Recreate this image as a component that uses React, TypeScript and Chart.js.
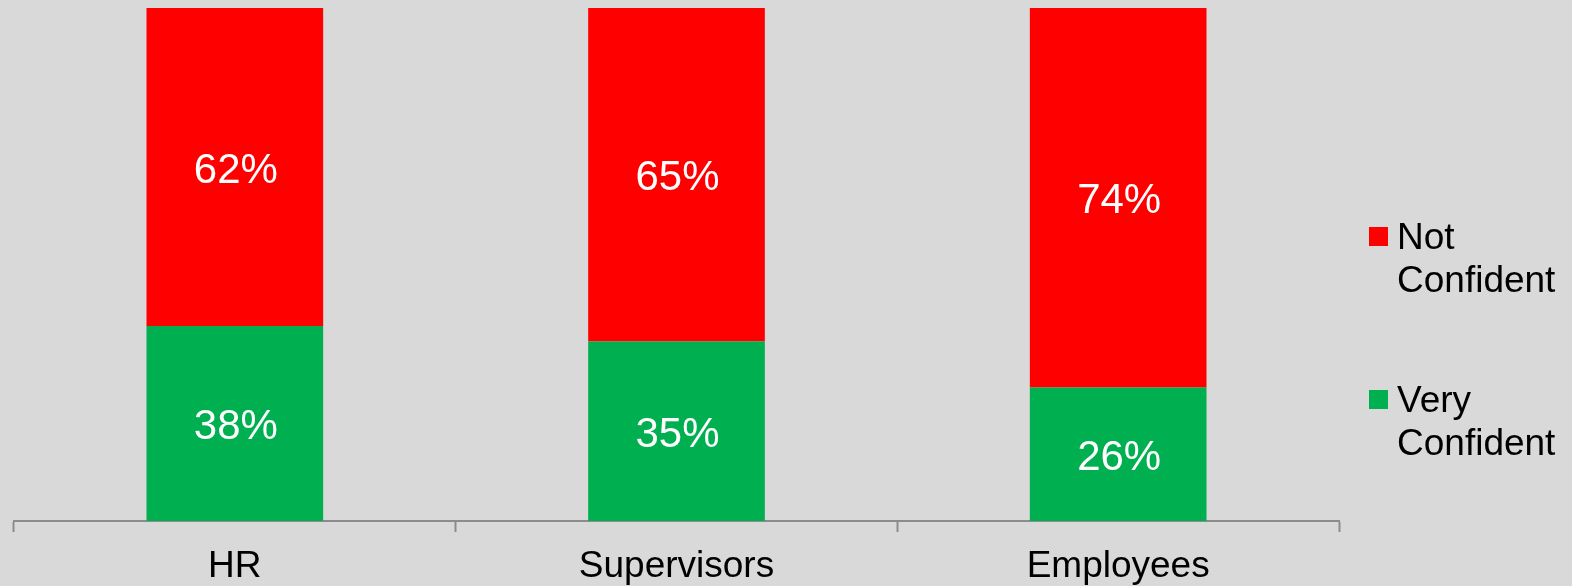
import React, { useEffect, useRef } from "react";
import { Chart, registerables } from "chart.js";

Chart.register(...registerables);

const categories = ["HR", "Supervisors", "Employees"];
const veryConfident = [38, 35, 26];
const notConfident = [62, 65, 74];
const seriesNames = ["Very Confident", "Not Confident"];
const legendLines = [["Not", "Confident"], ["Very", "Confident"]];

const FONT = "'Liberation Sans', Arial, sans-serif";
const GREEN = "#00b050";
const RED = "#ff0000";
const AXIS = "#8c8c8c";

export default function App() {
  const ref = useRef<HTMLCanvasElement>(null);

  useEffect(() => {
    document.body.style.margin = "0";
    const canvas = ref.current!;

    const bgPlugin = {
      id: "bg",
      beforeDraw(chart: any) {
        const ctx = chart.ctx;
        ctx.save();
        ctx.fillStyle = "#d9d9d9";
        ctx.fillRect(0, 0, chart.width, chart.height);
        ctx.restore();
      },
    };

    const labelPlugin = {
      id: "valueLabels",
      afterDatasetsDraw(chart: any) {
        const ctx = chart.ctx;
        ctx.save();
        ctx.fillStyle = "#ffffff";
        ctx.font = `42px ${FONT}`;
        ctx.textAlign = "center";
        ctx.textBaseline = "middle";
        chart.data.datasets.forEach((ds: any, di: number) => {
          const meta = chart.getDatasetMeta(di);
          meta.data.forEach((el: any, i: number) => {
            const y = (el.y + el.base) / 2;
            ctx.fillText(ds.data[i] + "%", el.x + 1, y + 4);
          });
        });
        ctx.restore();
      },
    };

    const legendPlugin = {
      id: "customLegend",
      afterDraw(chart: any) {
        const ctx = chart.ctx;
        ctx.save();
        ctx.font = `37px ${FONT}`;
        ctx.textBaseline = "alphabetic";
        ctx.textAlign = "left";
        const items = [
          { color: RED, lines: legendLines[0], boxY: 227, baseY: 249 },
          { color: GREEN, lines: legendLines[1], boxY: 390, baseY: 412 },
        ];
        items.forEach((it) => {
          ctx.fillStyle = it.color;
          ctx.fillRect(1369, it.boxY, 19, 19);
          ctx.fillStyle = "#000000";
          it.lines.forEach((ln, k) => {
            ctx.fillText(ln, 1397, it.baseY + k * 43);
          });
        });
        ctx.restore();
      },
    };

    const chart = new Chart(canvas, {
      type: "bar",
      data: {
        labels: categories,
        datasets: [
          { label: seriesNames[0], data: veryConfident, backgroundColor: GREEN, barPercentage: 0.4, categoryPercentage: 1 },
          { label: seriesNames[1], data: notConfident, backgroundColor: RED, barPercentage: 0.4, categoryPercentage: 1 },
        ],
      },
      options: {
        animation: false,
        responsive: false,
        maintainAspectRatio: false,
        layout: { padding: { left: 14, right: 233, top: 8, bottom: 0 } },
        plugins: {
          legend: { display: false },
          tooltip: { enabled: false },
        },
        scales: {
          x: {
            stacked: true,
            grid: {
              display: true,
              offset: true,
              drawOnChartArea: false,
              drawTicks: true,
              tickLength: 11,
              tickWidth: 2,
              color: AXIS,
            },
            border: { display: true, color: AXIS, width: 2 },
            ticks: {
              color: "#000000",
              font: { family: FONT, size: 37 },
              padding: 13,
              maxRotation: 0,
            },
            afterFit: (scale: any) => {
              scale.height = 65;
            },
          },
          y: {
            stacked: true,
            display: false,
            min: 0,
            max: 100,
          },
        },
      },
      plugins: [bgPlugin, labelPlugin, legendPlugin],
    });
    return () => chart.destroy();
  }, []);

  return (
    <div style={{ width: 1572, height: 586 }}>
      <canvas ref={ref} width={1572} height={586} style={{ display: "block" }} />
    </div>
  );
}
